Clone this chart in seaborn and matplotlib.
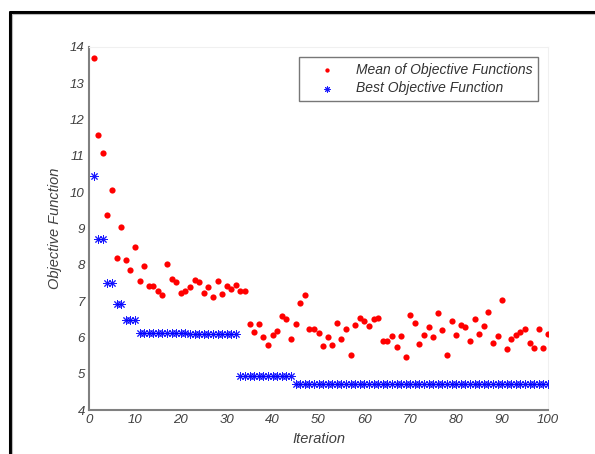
import matplotlib
matplotlib.use("Agg")
import matplotlib.pyplot as plt
import numpy as np
import pandas as pd
import seaborn as sns
from matplotlib.lines import Line2D

sns.set_style("white")
plt.rcParams['font.family'] = ['Liberation Sans', 'DejaVu Sans']

# Data
iterations = list(range(1, 101))
mean_obj = [13.7, 11.58, 11.07, 9.38, 10.05, 8.18, 9.03, 8.12, 7.87, 8.5,
            7.55, 7.96, 7.42, 7.42, 7.29, 7.17, 8.02, 7.61, 7.52, 7.22,
            7.29, 7.38, 7.58, 7.53, 7.23, 7.38, 7.1, 7.55, 7.2, 7.41,
            7.32, 7.43, 7.29, 7.29, 6.38, 6.15, 6.36, 6.0, 5.8, 6.06,
            6.18, 6.59, 6.5, 5.95, 6.36, 6.94, 7.18, 6.23, 6.23, 6.12,
            5.77, 6.0, 5.8, 6.39, 5.95, 6.23, 5.52, 6.35, 6.53, 6.45,
            6.32, 6.5, 6.53, 5.89, 5.91, 6.03, 5.74, 6.03, 5.45, 6.62,
            6.41, 5.83, 6.07, 6.3, 6.0, 6.67, 6.21, 5.51, 6.44, 6.07,
            6.33, 6.3, 5.91, 6.5, 6.09, 6.32, 6.7, 5.85, 6.03, 7.02,
            5.67, 5.95, 6.07, 6.16, 6.23, 5.84, 5.71, 6.24, 5.71, 6.1]
best_obj = [10.45, 8.7, 8.7, 7.5, 7.5, 6.92, 6.92, 6.47, 6.47, 6.47,
            6.12, 6.12, 6.12, 6.12, 6.12, 6.12, 6.12, 6.12, 6.12, 6.12,
            6.12, 6.08, 6.08, 6.08, 6.08, 6.08, 6.08, 6.08, 6.08, 6.08,
            6.08, 6.08, 4.93, 4.93, 4.93, 4.93, 4.93, 4.93, 4.93, 4.93,
            4.93, 4.93, 4.93, 4.93, 4.72, 4.72, 4.72, 4.72, 4.72, 4.72,
            4.72, 4.72, 4.72, 4.72, 4.72, 4.72, 4.72, 4.72, 4.72, 4.72,
            4.72, 4.72, 4.72, 4.72, 4.72, 4.72, 4.72, 4.72, 4.72, 4.72,
            4.72, 4.72, 4.72, 4.72, 4.72, 4.72, 4.72, 4.72, 4.72, 4.72,
            4.72, 4.72, 4.72, 4.72, 4.72, 4.72, 4.72, 4.72, 4.72, 4.72,
            4.72, 4.72, 4.72, 4.72, 4.72, 4.72, 4.72, 4.72, 4.72, 4.72]
x_ticks = [0, 10, 20, 30, 40, 50, 60, 70, 80, 90, 100]
y_ticks = [4, 5, 6, 7, 8, 9, 10, 11, 12, 13, 14]

df = pd.DataFrame({'iteration': iterations, 'mean': mean_obj, 'best': best_obj})

text_col = '#404040'
axis_col = '#808080'

fig = plt.figure(figsize=(5.95, 4.54), dpi=100)
ax = fig.add_axes([0.1496, 0.0969, 0.7714, 0.7996])

sns.scatterplot(x='iteration', y='mean', data=df, ax=ax, marker='o', s=20,
                color='#ff0000', linewidth=0, label='Mean of Objective Functions', zorder=3)
sns.scatterplot(x='iteration', y='best', data=df, ax=ax, marker=(8, 2, 0), s=30,
                color='#0000ff', edgecolor='#1a1aff', linewidth=0.7, alpha=0.9,
                label='Best Objective Function', zorder=3)

ax.set_xlim(0, 100)
ax.set_ylim(4, 14)
ax.set_xticks(x_ticks)
ax.set_yticks(y_ticks)
ax.tick_params(direction='in', length=4, width=1, colors=axis_col, labelcolor=text_col,
               labelsize=9.5, pad=3)
for lab in ax.get_xticklabels() + ax.get_yticklabels():
    lab.set_fontstyle('italic')

ax.set_xlabel('Iteration', fontsize=10.5, style='italic', color=text_col, labelpad=4)
ax.set_ylabel('Objective Function', fontsize=10.5, style='italic', color=text_col, labelpad=6)

for side in ['left', 'bottom']:
    ax.spines[side].set_color(axis_col)
    ax.spines[side].set_linewidth(1.5)
for side in ['top', 'right']:
    ax.spines[side].set_color('#f0f0f0')
    ax.spines[side].set_linewidth(0.8)

leg = ax.legend(loc='upper right', bbox_to_anchor=(0.985, 0.98),
                prop={'style': 'italic', 'size': 10}, frameon=True, fancybox=False,
                borderpad=0.4, handlelength=3.2, handletextpad=0.5, labelspacing=0.35,
                markerscale=0.7, borderaxespad=0.2)
leg.get_frame().set_edgecolor('#555555')
leg.get_frame().set_linewidth(1.0)
for t in leg.get_texts():
    t.set_color('#333333')

# page frame (left and top black border)
fig.add_artist(Line2D([10 / 595, 10 / 595], [0, 1 - 12 / 454], color='black', lw=2.2))
fig.add_artist(Line2D([10 / 595, 1], [1 - 12 / 454, 1 - 12 / 454], color='black', lw=2.2))
fig.add_artist(Line2D([12 / 595, 12 / 595], [0, 1 - 14 / 454], color='#bbbbbb', lw=0.8))
fig.add_artist(Line2D([12 / 595, 1], [1 - 14 / 454, 1 - 14 / 454], color='#bbbbbb', lw=0.8))

fig.savefig('out.png', dpi=100)
